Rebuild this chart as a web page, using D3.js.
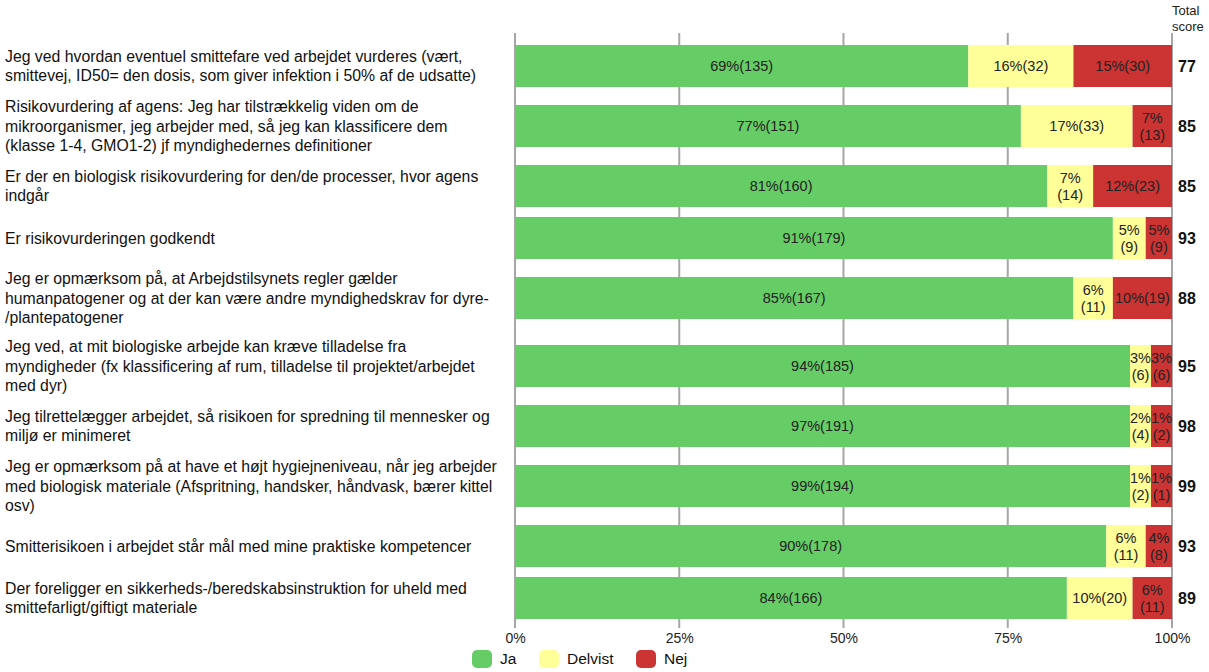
<!DOCTYPE html>
<html>
<head>
<meta charset="utf-8">
<script src="https://cdn.jsdelivr.net/npm/d3@7"></script>
<style>
  body { margin: 0; background: #fff; }
  svg { font-family: "Liberation Sans", Arial, sans-serif; display: block; }
  .q-label { font-size: 15.8px; fill: #111; }
  .seg-label { font-size: 14.5px; fill: #222; }
  .score { font-size: 16px; font-weight: bold; fill: #111; }
  .tick text { font-size: 14px; fill: #222; }
</style>
</head>
<body>
<svg id="chart"></svg>
<script>
// questions, already broken in lines as in the survey report
const questions = [
  ["Jeg ved hvordan eventuel smittefare ved arbejdet vurderes (vært,", "smittevej, ID50= den dosis, som giver infektion i 50% af de udsatte)"],
  ["Risikovurdering af agens: Jeg har tilstrækkelig viden om de", "mikroorganismer, jeg arbejder med, så jeg kan klassificere dem", "(klasse 1-4, GMO1-2) jf myndighedernes definitioner"],
  ["Er der en biologisk risikovurdering for den/de processer, hvor agens", "indgår"],
  ["Er risikovurderingen godkendt"],
  ["Jeg er opmærksom på, at Arbejdstilsynets regler gælder", "humanpatogener og at der kan være andre myndighedskrav for dyre-", "/plantepatogener"],
  ["Jeg ved, at mit biologiske arbejde kan kræve tilladelse fra", "myndigheder (fx klassificering af rum, tilladelse til projektet/arbejdet", "med dyr)"],
  ["Jeg tilrettelægger arbejdet, så risikoen for spredning til mennesker og", "miljø er minimeret"],
  ["Jeg er opmærksom på at have et højt hygiejneniveau, når jeg arbejder", "med biologisk materiale (Afspritning, handsker, håndvask, bærer kittel", "osv)"],
  ["Smitterisikoen i arbejdet står mål med mine praktiske kompetencer"],
  ["Der foreligger en sikkerheds-/beredskabsinstruktion for uheld med", "smittefarligt/giftigt materiale"]
];

const categories = ["Ja", "Delvist", "Nej"];
const jaCount      = [135, 151, 160, 179, 167, 185, 191, 194, 178, 166];
const delvistCount = [32, 33, 14, 9, 11, 6, 4, 2, 11, 20];
const nejCount     = [30, 13, 23, 9, 19, 6, 2, 1, 8, 11];
const jaPct        = [69, 77, 81, 91, 85, 94, 97, 99, 90, 84];
const delvistPct   = [16, 17, 7, 5, 6, 3, 2, 1, 6, 10];
const nejPct       = [15, 7, 12, 5, 10, 3, 1, 1, 4, 6];
const totalScore   = [77, 85, 85, 93, 88, 95, 98, 99, 93, 89];
const xTicks = [0, 0.25, 0.5, 0.75, 1];

const colors = ["#66cc66", "#ffff99", "#cc3333"];

const width = 1209, height = 672;
const margin = {top: 40, left: 515, right: 37};
const plotW = width - margin.left - margin.right;
const minSeg = 21;
const lineH = 19.5;

const svg = d3.select("#chart").attr("width", width).attr("height", height);

const x = d3.scaleLinear().domain([0, 1]).range([margin.left, margin.left + plotW]).clamp(true);
const color = d3.scaleOrdinal().domain(categories).range(colors);

// row heights depend on how many lines the question needs
const rows = questions.map((lines, i) => ({
  lines,
  counts: [jaCount[i], delvistCount[i], nejCount[i]],
  pcts: [jaPct[i], delvistPct[i], nejPct[i]],
  score: totalScore[i],
  h: Math.max(52, lines.length * 19 + 11)
}));
let yAcc = margin.top;
rows.forEach(r => { r.y0 = yAcc; r.cy = yAcc + r.h / 2; yAcc += r.h; });
const plotBottom = yAcc;

// segments: stacked by the rounded percentages (clipped at 100%),
// small ones get a minimum width taken from the largest
rows.forEach(r => {
  let cum = 0;
  let w = r.pcts.map(p => {
    const a = x(cum / 100);
    cum += p;
    return x(cum / 100) - a;
  });
  let extra = 0;
  w = w.map((v, k) => {
    if (r.counts[k] > 0 && v < minSeg) { extra += minSeg - v; return minSeg; }
    return v;
  });
  const big = d3.maxIndex(w);
  w[big] -= extra;
  let acc = x(0);
  r.segs = w.map((v, k) => {
    const s = {x: acc, w: v, cat: categories[k], count: r.counts[k], pct: r.pcts[k]};
    acc += v;
    return s;
  });
});

// gridlines
svg.append("g")
  .selectAll("line")
  .data(xTicks)
  .join("line")
  .attr("x1", d => x(d)).attr("x2", d => x(d))
  .attr("y1", 33).attr("y2", plotBottom + 4)
  .attr("stroke", "#a6a6a6")
  .attr("stroke-width", 2);

// x axis labels
const xAxis = d3.axisBottom(x)
  .tickValues(xTicks)
  .tickSize(0)
  .tickPadding(0)
  .tickFormat(d3.format(".0%"));
svg.append("g")
  .attr("transform", `translate(0,${plotBottom + 9})`)
  .call(xAxis)
  .call(g => g.select(".domain").remove());

// question labels
const rowG = svg.append("g").selectAll("g.row")
  .data(rows)
  .join("g")
  .attr("class", "row");

rowG.append("text")
  .attr("class", "q-label")
  .attr("x", 5)
  .attr("y", d => d.cy - (d.lines.length - 1) * lineH / 2)
  .selectAll("tspan")
  .data(d => d.lines)
  .join("tspan")
  .attr("x", 5)
  .attr("dy", (d, i) => i === 0 ? "0.35em" : lineH)
  .text(d => d);

// bars
const segG = rowG.selectAll("g.seg")
  .data(d => d.segs.map(s => ({...s, cy: d.cy})))
  .join("g")
  .attr("class", "seg");

segG.append("rect")
  .attr("x", d => d.x)
  .attr("y", d => d.cy - 21)
  .attr("width", d => d.w)
  .attr("height", 42)
  .attr("fill", d => color(d.cat));

segG.each(function(d) {
  const g = d3.select(this);
  const t = g.append("text")
    .attr("class", "seg-label")
    .attr("text-anchor", "middle")
    .attr("x", d.x + d.w / 2)
    .attr("y", d.cy)
    .attr("dy", "0.35em")
    .text(`${d.pct}%(${d.count})`);
  // label does not fit: put the count on a second line
  if (t.node().getComputedTextLength() + 2 > d.w) {
    t.text(null).attr("dy", null);
    t.attr("y", d.cy - 8.5);
    t.append("tspan").attr("x", d.x + d.w / 2).attr("dy", "0.35em").text(`${d.pct}%`);
    t.append("tspan").attr("x", d.x + d.w / 2).attr("dy", 17).text(`(${d.count})`);
  }
});

// total score column
svg.append("text")
  .attr("x", margin.left + plotW)
  .attr("y", 15)
  .style("font-size", "13px").style("fill", "#222")
  .selectAll("tspan")
  .data(["Total", "score"])
  .join("tspan")
  .attr("x", margin.left + plotW)
  .attr("dy", (d, i) => i === 0 ? 0 : 16)
  .text(d => d);

rowG.append("text")
  .attr("class", "score")
  .attr("x", margin.left + plotW + 6)
  .attr("y", d => d.cy)
  .attr("dy", "0.35em")
  .text(d => d.score);

// legend
const legend = svg.append("g").selectAll("g")
  .data(categories)
  .join("g")
  .attr("transform", (d, i) => `translate(${[472, 539, 636][i]},650)`);
legend.append("rect")
  .attr("width", 20).attr("height", 18).attr("rx", 5)
  .attr("fill", d => color(d));
legend.append("text")
  .attr("x", 28).attr("y", 9).attr("dy", "0.35em")
  .style("font-size", "15.5px").style("fill", "#111")
  .text(d => d);
</script>
</body>
</html>
